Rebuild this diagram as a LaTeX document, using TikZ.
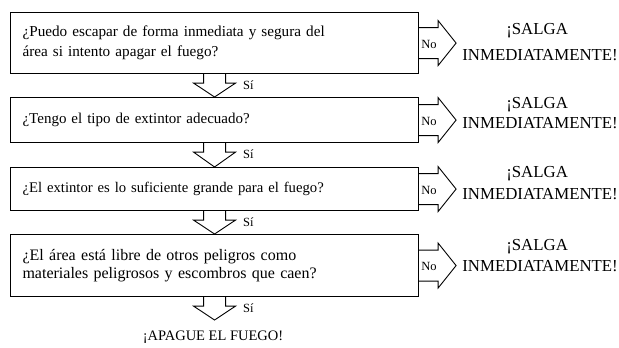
\documentclass[tikz,border=0pt]{standalone}
\usepackage{fontspec}
\setmainfont{Liberation Serif}
\usetikzlibrary{calc}
\begin{document}
\begin{tikzpicture}[x=1pt,y=-1pt,
  qbox/.style={draw, line width=1.1pt, minimum width=408pt, text width=384pt, inner xsep=12pt, inner ysep=0pt, align=left, anchor=north west},
  blk/.style={draw, line width=0.9pt, line join=miter},
  salga/.style={font=\fontsize{16.8}{20}\selectfont, inner sep=0pt},
  silbl/.style={font=\fontsize{12.5}{14}\selectfont, anchor=west},
  nolbl/.style={font=\fontsize{12.5}{14}\selectfont},
  fin/.style={font=\fontsize{14.5}{16}\selectfont}]
\useasboundingbox (0,0) rectangle (619,348);
\node[qbox, minimum height=61pt, font=\fontsize{15.2}{20}\selectfont] (b1) at (10,12)
  {¿Puedo escapar de forma inmediata y segura del\\área si intento apagar el fuego?};
\node[qbox, minimum height=45pt, font=\fontsize{15}{19}\selectfont] (b2) at (10,97)
  {¿Tengo el tipo de extintor adecuado?};
\node[qbox, minimum height=43pt, font=\fontsize{14.7}{19}\selectfont] (b3) at (10,167)
  {¿El extintor es lo suficiente grande para el fuego?};
\node[qbox, minimum height=62pt, font=\fontsize{16}{18}\selectfont] (b4) at (10,234)
  {¿El área está libre de otros peligros como\\materiales peligrosos y escombros que caen?};
\coordinate (end) at (216,320);
% down arrows
\foreach \a/\b in {b1/b2,b2/b3,b3/b4,b4/end}{
  \draw[blk] ($(\a.south)+(-11,0)$) -- ++(0,9) -- ++(-10,0) -- (\a.south |- \b.north)
     -- ($(\a.south)+(21,9)$) -- ++(-10,0) -- ++(0,-9);
  \node[silbl] at ($(\a.south)+(25,11)$) {Sí};
}
% right arrows
\foreach \a/\up/\dn in {b1/-12/12,b2/-15/3,b3/-15/5,b4/-19/1}{
  \draw[blk] (\a.east) ++(0,-15.5) -- ++(19,0) -- ++(0,-7) -- ++(18,22.5) -- ++(-18,22.5)
     -- ++(0,-7) -- ++(-19,0);
  \node[nolbl] at ($(\a.east)+(10,1)$) {No};
  \node[salga] at ($(\a.east)+(118,\up)$) {¡SALGA};
  \node[salga] at ($(\a.east)+(121,\dn)$) {INMEDIATAMENTE!};
}
\node[fin] (fin) at (213,337) {¡APAGUE EL FUEGO!};
\end{tikzpicture}
\end{document}
